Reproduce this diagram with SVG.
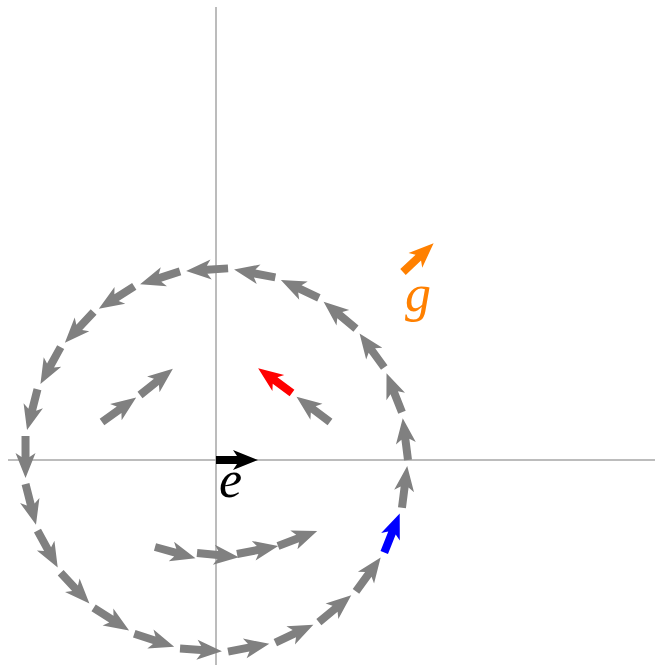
<svg xmlns="http://www.w3.org/2000/svg" xmlns:xlink="http://www.w3.org/1999/xlink" width="662" height="667" viewBox="0 0 662 667">
<style>
.axis{stroke:#a6a6a6;stroke-width:1.5;fill:none}
.grey{fill:#808080}
.red{fill:#ff0000}
.blue{fill:#0000ff}
.orange{fill:#ff8000}
.black{fill:#000000}
.lbl{font-family:"Liberation Serif","Times New Roman",serif;font-style:italic;font-size:52px}
</style>
<defs>
<path id="arr" d="M0,-4 L21,-4 L17,-10 L42,0 L17,10 L21,4 L0,4 Z"/>
</defs>
<rect width="662" height="667" fill="#ffffff"/>
<g id="axes">
<line class="axis" x1="216" y1="7" x2="216" y2="665"/>
<line class="axis" x1="8" y1="460" x2="655" y2="460"/>
</g>
<g id="circle-flow" class="grey">
<use xlink:href="#arr" transform="translate(408,460) rotate(-97.2)"/>
<use xlink:href="#arr" transform="translate(401.97,412.25) rotate(-111.6)"/>
<use xlink:href="#arr" transform="translate(384.25,367.49) rotate(-126)"/>
<use xlink:href="#arr" transform="translate(355.97,328.58) rotate(-140.4)"/>
<use xlink:href="#arr" transform="translate(318.87,297.89) rotate(-154.8)"/>
<use xlink:href="#arr" transform="translate(275.33,277.39) rotate(-169.2)"/>
<use xlink:href="#arr" transform="translate(228.06,268.38) rotate(-183.6)"/>
<use xlink:href="#arr" transform="translate(180.02,271.39) rotate(-198)"/>
<use xlink:href="#arr" transform="translate(134.25,286.28) rotate(-212.4)"/>
<use xlink:href="#arr" transform="translate(93.62,312.06) rotate(-226.8)"/>
<use xlink:href="#arr" transform="translate(60.67,347.14) rotate(-241.2)"/>
<use xlink:href="#arr" transform="translate(37.48,389.32) rotate(-255.6)"/>
<use xlink:href="#arr" transform="translate(25.52,435.94) rotate(-270)"/>
<use xlink:href="#arr" transform="translate(25.52,484.06) rotate(-284.4)"/>
<use xlink:href="#arr" transform="translate(37.48,530.68) rotate(-298.8)"/>
<use xlink:href="#arr" transform="translate(60.67,572.86) rotate(-313.2)"/>
<use xlink:href="#arr" transform="translate(93.62,607.94) rotate(-327.6)"/>
<use xlink:href="#arr" transform="translate(134.25,633.72) rotate(-342)"/>
<use xlink:href="#arr" transform="translate(180.02,648.61) rotate(-356.4)"/>
<use xlink:href="#arr" transform="translate(228.06,651.62) rotate(-10.8)"/>
<use xlink:href="#arr" transform="translate(275.33,642.61) rotate(-25.2)"/>
<use xlink:href="#arr" transform="translate(318.87,622.11) rotate(-39.6)"/>
<use xlink:href="#arr" transform="translate(355.97,591.42) rotate(-54)"/>
<use xlink:href="#arr" transform="translate(401.97,507.75) rotate(-82.8)"/>
</g>
<g id="blue-arrow" class="blue">
<use xlink:href="#arr" transform="translate(384.25,552.51) rotate(-68.4)"/>
</g>
<g id="left-flow" class="grey">
<use xlink:href="#arr" transform="translate(102,422) rotate(-35.5)"/>
<use xlink:href="#arr" transform="translate(140,395) rotate(-38.5)"/>
</g>
<g id="right-flow">
<use class="grey" xlink:href="#arr" transform="translate(330,422) rotate(-142.9)"/>
<use class="red" xlink:href="#arr" transform="translate(292,393) rotate(-143.7)"/>
</g>
<g id="bottom-flow" class="grey">
<use xlink:href="#arr" transform="translate(155,547) rotate(15.4)"/>
<use xlink:href="#arr" transform="translate(197,553) rotate(5.7)"/>
<use xlink:href="#arr" transform="translate(237,554) rotate(-11)"/>
<use xlink:href="#arr" transform="translate(278,546) rotate(-21)"/>
</g>
<g id="node-e">
<use class="black" xlink:href="#arr" transform="translate(216,460) rotate(0)"/>
<text class="lbl" x="219" y="497" fill="#000000">e</text>
</g>
<g id="node-g">
<use class="orange" xlink:href="#arr" transform="translate(403,272) rotate(-43.2)"/>
<text class="lbl" x="405" y="311" fill="#ff8000">g</text>
</g>
</svg>
